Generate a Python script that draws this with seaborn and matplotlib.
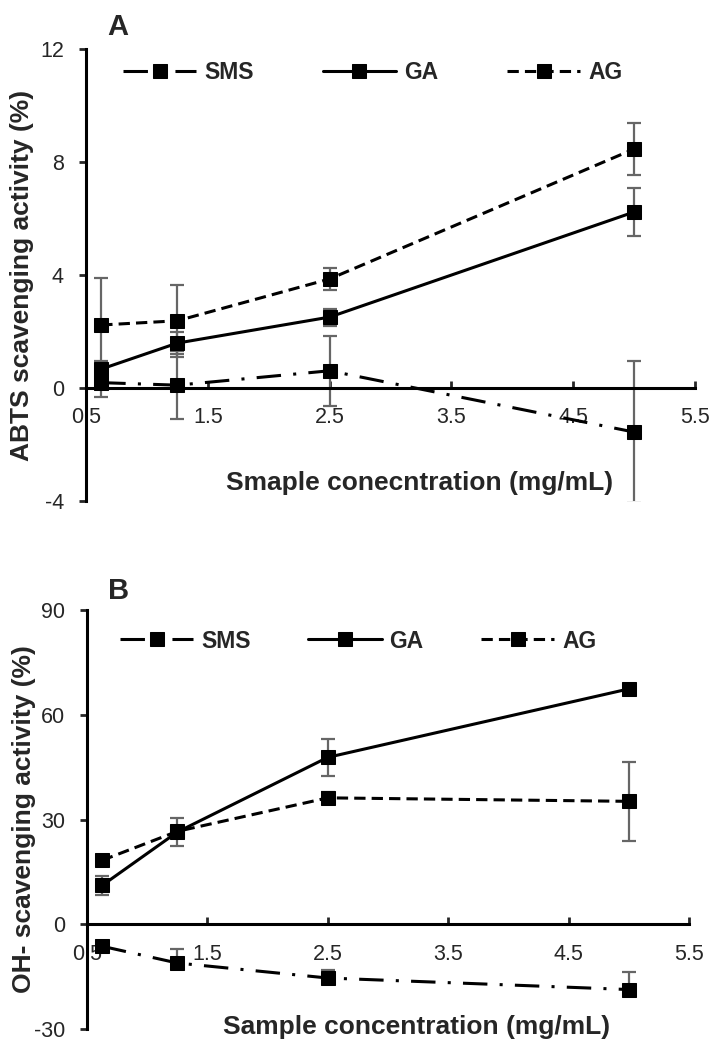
import matplotlib
matplotlib.use("Agg")
import matplotlib.pyplot as plt
import seaborn as sns

# concentrations (mg/mL)
conc = [0.625, 1.25, 2.5, 5]

# Panel A: ABTS scavenging activity (%)
abts_sms = [0.19, 0.10, 0.61, -1.56]
abts_sms_err = [0.5, 1.2, 1.23, 2.5]
abts_ga = [0.67, 1.59, 2.51, 6.23]
abts_ga_err = [0.3, 0.4, 0.3, 0.85]
abts_ag = [2.23, 2.38, 3.86, 8.46]
abts_ag_err = [1.65, 1.27, 0.38, 0.92]

# Panel B: OH- scavenging activity (%)
oh_sms = [-6.3, -11.1, -15.4, -18.7]
oh_sms_err = [1.0, 4.1, 2.4, 4.9]
oh_ga = [11.1, 26.4, 47.8, 67.4]
oh_ga_err = [2.7, 4.0, 5.3, 1.0]
oh_ag = [18.3, 26.6, 36.2, 35.2]
oh_ag_err = [1.0, 1.0, 1.8, 11.3]

series_names = ["SMS", "GA", "AG"]
line_styles = {"SMS": (0, (8, 4, 1, 4)), "GA": "-", "AG": (0, (3.7, 2))}

sns.set_style("white")
plt.rcParams["font.family"] = ["Liberation Sans", "DejaVu Sans"]

fig = plt.figure(figsize=(7.12, 10.51), dpi=100)
ax_a = fig.add_axes([86 / 712, 1 - 501 / 1051, 609 / 712, 452 / 1051])
ax_b = fig.add_axes([87 / 712, 1 - 1029 / 1051, 602 / 712, 419 / 1051])


def draw_panel(ax, values, errors, ylim, yticks, ylabel, xlabel, leg_xy, colspace,
               xlabel_y, plus_only=()):
    for name in series_names:
        err = errors[name]
        if name in plus_only:
            err = [[0] * len(err), err]
        ax.errorbar(conc, values[name], yerr=err, fmt="none",
                    ecolor="#666666", elinewidth=1.6, capsize=5, capthick=1.6, zorder=2)
    for name in series_names:
        sns.lineplot(x=conc, y=values[name], ax=ax, color="black", marker="s",
                     markersize=10, markeredgecolor="black", linewidth=2.2,
                     linestyle=line_styles[name], label=name, errorbar=None, zorder=3)

    ax.set_xlim(0.5, 5.5)
    ax.set_ylim(*ylim)
    ax.set_xticks([0.5, 1.5, 2.5, 3.5, 4.5, 5.5])
    ax.set_xticklabels(["0.5", "1.5", "2.5", "3.5", "4.5", "5.5"])
    ax.set_yticks(yticks)
    ax.set_yticklabels([str(t) for t in yticks])

    for s in ["top", "right"]:
        ax.spines[s].set_visible(False)
    ax.spines["bottom"].set_position(("data", 0))
    for s in ["bottom", "left"]:
        ax.spines[s].set_linewidth(2.2)
        ax.spines[s].set_color("black")

    ax.tick_params(axis="x", direction="in", length=5, width=2, pad=14, labelsize=15.5)
    ax.tick_params(axis="y", direction="out", length=5, width=2, pad=11, labelsize=15.5)
    ax.tick_params(left=True, bottom=True)

    ax.set_ylabel(ylabel, fontsize=19, fontweight="bold", va="center")
    ax.yaxis.set_label_coords(-0.105, 0.5)
    ax.set_xlabel(xlabel, fontsize=19, fontweight="bold", va="center")
    ax.xaxis.set_label_coords(0.547, xlabel_y)

    handles, labels = ax.get_legend_handles_labels()
    ax.legend(handles, labels, loc="center left", bbox_to_anchor=leg_xy, ncol=3,
              frameon=False, handlelength=3.2, handletextpad=0.35,
              columnspacing=colspace, borderaxespad=0, borderpad=0,
              prop={"weight": "bold", "size": 16.5})


draw_panel(ax_a,
           {"SMS": abts_sms, "GA": abts_ga, "AG": abts_ag},
           {"SMS": abts_sms_err, "GA": abts_ga_err, "AG": abts_ag_err},
           (-4, 12), [-4, 0, 4, 8, 12],
           "ABTS scavenging activity (%)", "Smaple conecntration (mg/mL)",
           (0.061, 0.949), 3.0, 0.04)

draw_panel(ax_b,
           {"SMS": oh_sms, "GA": oh_ga, "AG": oh_ag},
           {"SMS": oh_sms_err, "GA": oh_ga_err, "AG": oh_ag_err},
           (-30, 90), [-30, 0, 30, 60, 90],
           "OH- scavenging activity (%)", "Sample concentration (mg/mL)",
           (0.055, 0.926), 2.5, 0.005, plus_only=("SMS",))

fig.text(118 / 712, 1 - 27 / 1051, "A", fontsize=21, fontweight="bold", ha="center", va="center")
fig.text(119 / 712, 1 - 591 / 1051, "B", fontsize=21, fontweight="bold", ha="center", va="center")

fig.savefig("out.png", dpi=100)
